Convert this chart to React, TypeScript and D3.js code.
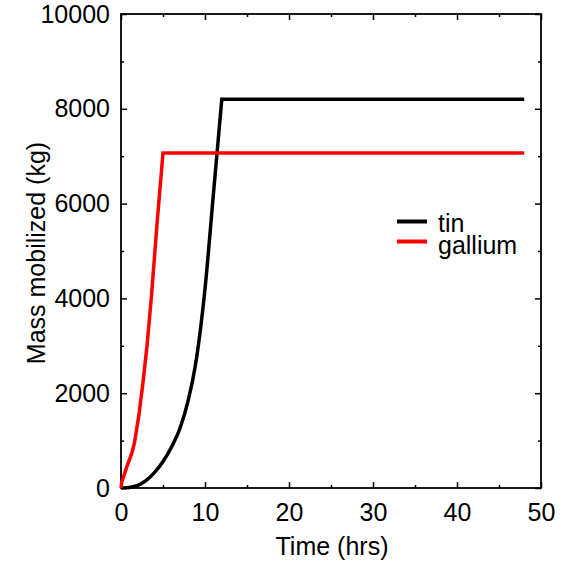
import React, {useEffect, useRef} from 'react';
import * as d3 from 'd3';

// data
const tinTime = [0, 1, 2, 3, 4, 5, 6, 7, 8, 9, 10, 11, 11.5, 12];
const tinMass = [0, 12, 55, 160, 330, 560, 860, 1250, 1850, 2750, 4200, 6200, 7200, 8200];
const tinEnd = 48;
const galliumTime = [0, 0.1, 0.7, 1.3, 1.6, 2.1, 2.6, 3.1, 3.65, 4.3, 5, 48];
const galliumMass = [0, 130, 450, 740, 950, 1500, 2200, 3000, 4100, 5600, 7070, 7070];
const seriesNames = ['tin', 'gallium'];
const seriesColors = ['#000000', '#ff0000'];
const xMajorTicks = [0, 10, 20, 30, 40, 50];
const xMinorTicks = [5, 15, 25, 35, 45];
const yMajorTicks = [0, 2000, 4000, 6000, 8000, 10000];
const yMinorTicks = [1000, 3000, 5000, 7000, 9000];

const width = 571;
const height = 569;
const margin = {top: 14, right: 30, bottom: 81, left: 121};
const font = 'Liberation Sans, Arial, sans-serif';
const fontSize = 25;

export default function App() {
    const ref = useRef<SVGSVGElement>(null);

    useEffect(() => {
        const svg = d3.select(ref.current);
        svg.selectAll('*').remove();

        const x = d3.scaleLinear().domain([0, 50]).range([margin.left, width - margin.right]);
        const y = d3.scaleLinear().domain([0, 10000]).range([height - margin.bottom, margin.top]);

        // frame
        svg.append('rect')
            .attr('x', x(0)).attr('y', y(10000))
            .attr('width', x(50) - x(0)).attr('height', y(0) - y(10000))
            .attr('fill', 'none').attr('stroke', '#000').attr('stroke-width', 1.8);

        // ticks (inward, on all four sides)
        const styleAxis = (g: any) => {
            g.select('.domain').remove();
            g.selectAll('line').attr('stroke', '#000').attr('stroke-width', 1.5);
            g.selectAll('text').attr('font-family', font).attr('font-size', fontSize).attr('fill', '#000');
        };
        const blank = () => '';
        svg.append('g').attr('transform', `translate(0,${y(0)})`)
            .call(d3.axisBottom(x).tickValues(xMajorTicks).tickSizeInner(-6).tickSizeOuter(0).tickPadding(15).tickFormat(d3.format('d')))
            .call(styleAxis);
        svg.append('g').attr('transform', `translate(0,${y(0)})`)
            .call(d3.axisBottom(x).tickValues(xMinorTicks).tickSize(-3).tickFormat(blank))
            .call(styleAxis);
        svg.append('g').attr('transform', `translate(0,${y(10000)})`)
            .call(d3.axisTop(x).tickValues(xMajorTicks).tickSize(-6).tickFormat(blank))
            .call(styleAxis);
        svg.append('g').attr('transform', `translate(0,${y(10000)})`)
            .call(d3.axisTop(x).tickValues(xMinorTicks).tickSize(-3).tickFormat(blank))
            .call(styleAxis);
        svg.append('g').attr('transform', `translate(${x(0)},0)`)
            .call(d3.axisLeft(y).tickValues(yMajorTicks).tickSizeInner(-6).tickSizeOuter(0).tickPadding(11).tickFormat(d3.format('d')))
            .call(styleAxis);
        svg.append('g').attr('transform', `translate(${x(0)},0)`)
            .call(d3.axisLeft(y).tickValues(yMinorTicks).tickSize(-3).tickFormat(blank))
            .call(styleAxis);
        svg.append('g').attr('transform', `translate(${x(50)},0)`)
            .call(d3.axisRight(y).tickValues(yMajorTicks).tickSize(-6).tickFormat(blank))
            .call(styleAxis);
        svg.append('g').attr('transform', `translate(${x(50)},0)`)
            .call(d3.axisRight(y).tickValues(yMinorTicks).tickSize(-3).tickFormat(blank))
            .call(styleAxis);

        // lines: tin rises smoothly then stays flat, gallium is piecewise
        const smooth = d3.line<[number, number]>().x((d) => x(d[0])).y((d) => y(d[1])).curve(d3.curveMonotoneX);
        const straight = d3.line<[number, number]>().x((d) => x(d[0])).y((d) => y(d[1]));
        const tinPts = tinTime.map((t, i) => [t, tinMass[i]] as [number, number]);
        const galPts = galliumTime.map((t, i) => [t, galliumMass[i]] as [number, number]);
        const tinPath = smooth(tinPts) + `L${x(tinEnd)},${y(tinMass[tinMass.length - 1])}`;
        svg.append('path').attr('d', tinPath).attr('fill', 'none')
            .attr('stroke', seriesColors[0]).attr('stroke-width', 3.5).attr('stroke-linejoin', 'miter');
        svg.append('path').attr('d', straight(galPts)).attr('fill', 'none')
            .attr('stroke', seriesColors[1]).attr('stroke-width', 3.5).attr('stroke-linejoin', 'miter');

        // axis titles
        svg.append('text').attr('x', (x(0) + x(50)) / 2 + 1).attr('y', 555)
            .attr('text-anchor', 'middle').attr('font-family', font).attr('font-size', fontSize)
            .text('Time (hrs)');
        svg.append('text').attr('transform', `translate(45,${(y(0) + y(10000)) / 2 + 2}) rotate(-90)`)
            .attr('text-anchor', 'middle').attr('font-family', font).attr('font-size', fontSize)
            .text('Mass mobilized (kg)');

        // legend
        seriesNames.forEach((name, i) => {
            const ly = 221.5 + i * 20;
            svg.append('line').attr('x1', 397).attr('x2', 427).attr('y1', ly).attr('y2', ly)
                .attr('stroke', seriesColors[i]).attr('stroke-width', 4);
            svg.append('text').attr('x', 438).attr('y', ly + 10 + i * 2)
                .attr('font-family', font).attr('font-size', fontSize).text(name);
        });
    }, []);

    return (
        <div style={{position: 'absolute', left: 0, top: 0}}>
            <svg ref={ref} width={width} height={height} style={{background: '#fff', display: 'block'}}></svg>
        </div>
    );
}
